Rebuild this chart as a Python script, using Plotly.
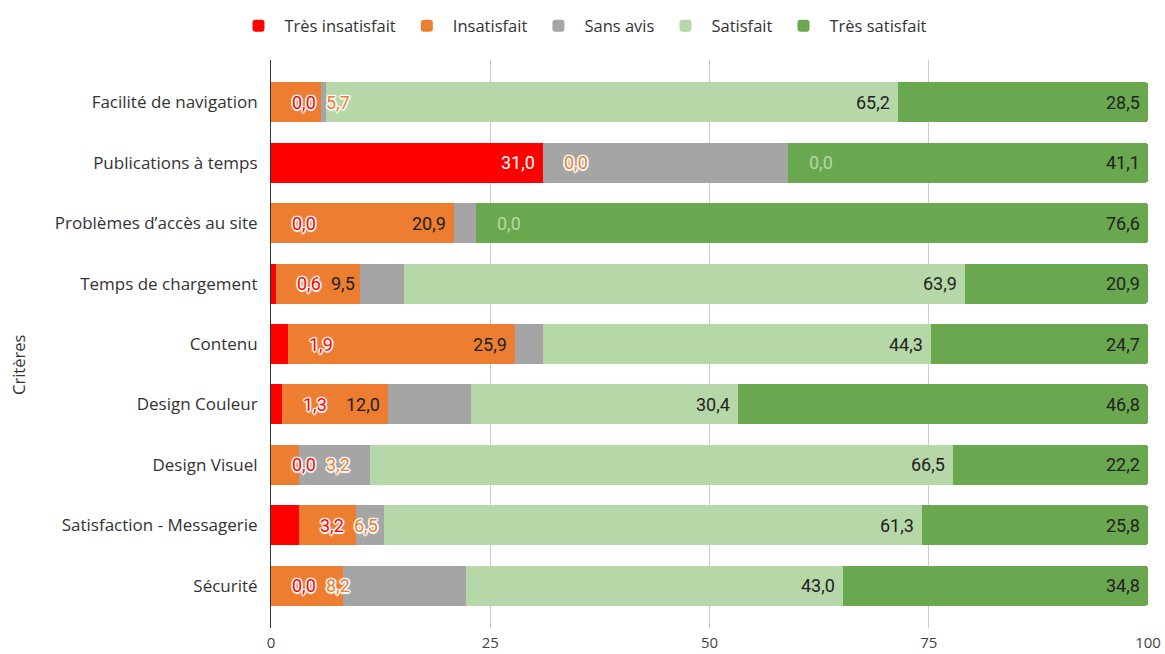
import plotly.graph_objects as go

categories = ["Facilité de navigation", "Publications à temps", "Problèmes d’accès au site",
              "Temps de chargement", "Contenu", "Design Couleur", "Design Visuel",
              "Satisfaction - Messagerie", "Sécurité"]
series_names = ["Très insatisfait", "Insatisfait", "Sans avis", "Satisfait", "Très satisfait"]
tres_insatisfait = [0.0, 31.0, 0.0, 0.6, 1.9, 1.3, 0.0, 3.2, 0.0]
insatisfait = [5.7, 0.0, 20.9, 9.5, 25.9, 12.0, 3.2, 6.5, 8.2]
sans_avis = [0.6, 27.9, 2.5, 5.1, 3.2, 9.5, 8.1, 3.2, 14.0]
satisfait = [65.2, 0.0, 0.0, 63.9, 44.3, 30.4, 66.5, 61.3, 43.0]
tres_satisfait = [28.5, 41.1, 76.6, 20.9, 24.7, 46.8, 22.2, 25.8, 34.8]
x_ticks = [0, 25, 50, 75, 100]

series_values = [tres_insatisfait, insatisfait, sans_avis, satisfait, tres_satisfait]
colors = ["#FF0000", "#ED7D31", "#A5A5A5", "#B6D7A8", "#6AA84F"]
label_inside_colors = ["#FFFFFF", "#222222", None, "#222222", "#222222"]
show_labels = [True, True, False, True, True]
halo_outside = [True, True, False, False, False]

W, H = 1165, 654
ML, MR, MT, MB = 271, 17, 60, 26
PLOT_W = W - ML - MR
PX = PLOT_W / (x_ticks[-1] - x_ticks[0])

CAT_FONT = "'Open Sans', Lato, sans-serif"
LBL_FONT = "Roboto, sans-serif"
LBL_SIZE = 18

fig = go.Figure()
for name, vals, col in zip(series_names, series_values, colors):
    fig.add_trace(go.Bar(
        name=name, y=categories, x=vals, orientation="h",
        marker=dict(color=col, line=dict(width=0)),
        hoverinfo="name+x",
    ))


def text_w(s):
    w = 0.0
    for ch in s:
        w += (0.2 if ch == "," else 0.5625) * LBL_SIZE
    return w + 4


HALO = ("white 1.5px 0px 1px, white -1.5px 0px 1px, white 0px 1.5px 1px, white 0px -1.5px 1px, "
        "white 1px 1px 1px, white -1px -1px 1px, white 1px -1px 1px, white -1px 1px 1px")

annotations = []
OUT_OFF, PAD_IN, GAP = 19, 6, 6
for i, cat in enumerate(categories):
    cum = 0.0
    prev_right = -1e9
    for k in range(len(series_values)):
        v = series_values[k][i]
        start, end = cum, cum + v
        cum = end
        if not show_labels[k]:
            continue
        txt = f"{v:.1f}".replace(".", ",")
        w = text_w(txt)
        s_px, e_px = start * PX, end * PX
        if (e_px - s_px) >= w + 2 * PAD_IN:
            left = e_px - PAD_IN - w
        else:
            left = e_px + OUT_OFF
        if left < prev_right + GAP:
            left = prev_right + GAP
        right = left + w
        prev_right = right
        inside = (left >= s_px - 0.5) and (right <= e_px + 0.5)
        if inside:
            font = dict(family=LBL_FONT, size=LBL_SIZE, color=label_inside_colors[k])
        elif halo_outside[k]:
            font = dict(family=LBL_FONT, size=LBL_SIZE, color=colors[k], shadow=HALO)
        else:
            font = dict(family=LBL_FONT, size=LBL_SIZE, color=colors[k])
        annotations.append(dict(
            x=end, y=cat, xref="x", yref="y", text=txt, showarrow=False,
            xanchor="left", yanchor="middle", xshift=left - e_px, font=font,
        ))

# y-axis title
annotations.append(dict(
    x=-(ML - 18) / PLOT_W, y=(H - MB - 365) / (H - MT - MB), xref="paper", yref="paper",
    text="Critères", textangle=-90, showarrow=False, xanchor="center", yanchor="middle",
    font=dict(family=CAT_FONT, size=16.5, color="#333333"),
))

fig.update_layout(
    width=W, height=H,
    margin=dict(l=ML, r=MR, t=MT, b=MB, autoexpand=False),
    barmode="stack", bargap=0.338, barcornerradius=3,
    plot_bgcolor="white", paper_bgcolor="white",
    font=dict(family=CAT_FONT, size=16, color="#333333"),
    legend=dict(orientation="h", xref="container", yref="container", x=0.5, y=1 - 26 / H,
                xanchor="center", yanchor="middle", font=dict(family=CAT_FONT, size=16.5, color="#333333"),
                traceorder="normal", itemwidth=42),
    xaxis=dict(range=[x_ticks[0], x_ticks[-1]], tickvals=x_ticks, ticktext=[str(t) for t in x_ticks],
               showgrid=True, gridcolor="#CCCCCC", gridwidth=1, zeroline=False, showline=False,
               ticklabelstandoff=4,
               tickfont=dict(family=CAT_FONT, size=15, color="#444444"), ticks="", fixedrange=True),
    yaxis=dict(categoryorder="array", categoryarray=categories, range=[len(categories) - 0.3, -0.7],
               showline=True, linecolor="#333333", linewidth=1, showgrid=False, ticks="",
               ticklabelstandoff=9,
               tickfont=dict(family=CAT_FONT, size=17, color="#333333"), fixedrange=True),
    annotations=annotations,
    showlegend=True,
)

fig.write_html("out.html", config={"displayModeBar": False},
               post_script="document.body.style.margin='0';")
